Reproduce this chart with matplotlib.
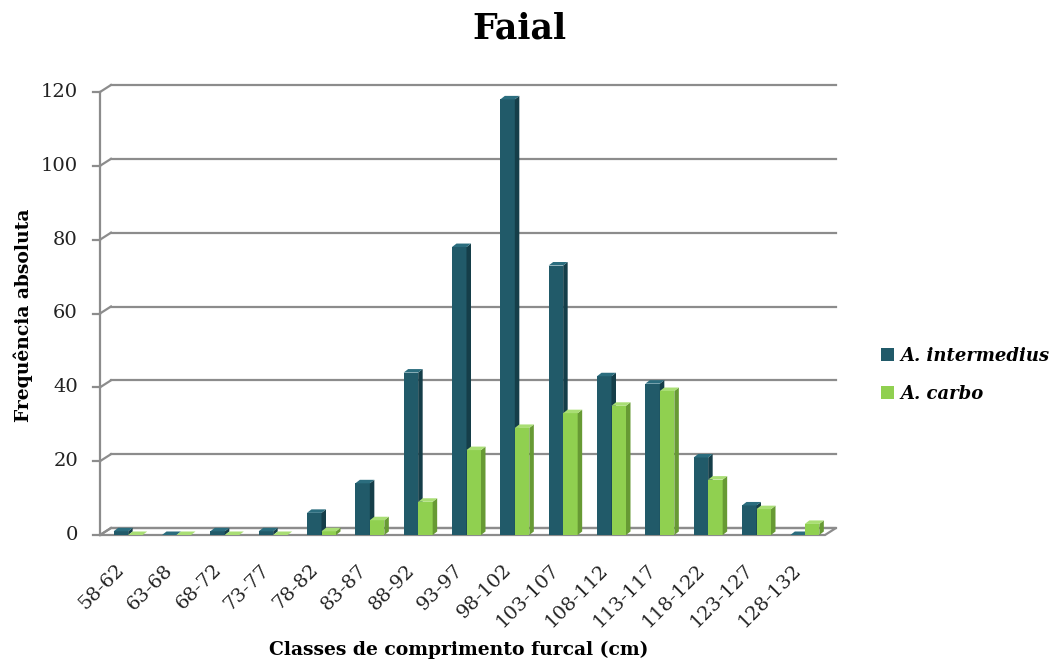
import matplotlib
matplotlib.use("Agg")
import matplotlib.pyplot as plt
from matplotlib.patches import Polygon, Patch
import numpy as np

categories = ["58-62", "63-68", "68-72", "73-77", "78-82", "83-87", "88-92", "93-97",
              "98-102", "103-107", "108-112", "113-117", "118-122", "123-127", "128-132"]
intermedius = [1, 0, 1, 1, 6, 14, 44, 78, 118, 73, 43, 41, 21, 8, 0]
carbo = [0, 0, 0, 0, 1, 4, 9, 23, 29, 33, 35, 39, 15, 7, 3]
yticks = [0, 20, 40, 60, 80, 100, 120]
series_names = ["A. intermedius", "A. carbo"]

font = "DejaVu Serif"
plt.rcParams['font.family'] = [font]

W, H = 1052, 668
fig = plt.figure(figsize=(W / 100, H / 100), dpi=100)
left_px, right_px = 100, 825
bot_px, top_px = 535, 92
ax = fig.add_axes([left_px / W, 1 - bot_px / H, (right_px - left_px) / W, (bot_px - top_px) / H])
n = len(categories)
ax.set_xlim(-0.5, n - 0.5)
ax.set_ylim(0, 120)
ax.axis('off')

cat_px = (right_px - left_px) / n
val_px = (bot_px - top_px) / 120.0
# back wall offset
bdx, bdy = 11 / cat_px, 7 / val_px
# bar depth offset
ddx, ddy = 4.5 / cat_px, 3.5 / val_px
shift = 4 / cat_px
grid_col = "#8c8c8c"

# floor
floor = Polygon([(-0.5, 0), (n - 0.5, 0), (n - 0.5 + bdx, bdy), (-0.5 + bdx, bdy)],
                closed=True, facecolor="white", edgecolor=grid_col, lw=1.6, clip_on=False, zorder=1)
ax.add_patch(floor)
# gridlines on back wall
for t in yticks:
    ax.plot([-0.5 + bdx, n - 0.5 + bdx], [t + bdy, t + bdy], color=grid_col, lw=1.6, clip_on=False, zorder=1)
    ax.plot([-0.5, -0.5 + bdx], [t, t + bdy], color=grid_col, lw=1.6, clip_on=False, zorder=1)
    ax.plot([-0.5 - 7 / cat_px, -0.5], [t, t], color=grid_col, lw=1.6, clip_on=False, zorder=1)
    ax.text(-0.5 - 22 / cat_px, t, str(t), ha='right', va='center', fontsize=14, color="#222222")
ax.plot([-0.5, -0.5], [0, 120], color=grid_col, lw=1.6, clip_on=False, zorder=1)

bw = 0.30
styles = [
    ("#215a69", "#153e49", "#2b6d7e"),
    ("#90d050", "#679a34", "#a9de74"),
]
x = np.arange(n)
for i in range(n):
    for s, (vals, (fc, sc, tc)) in enumerate(zip([intermedius, carbo], styles)):
        v = vals[i]
        x0 = i + shift - bw + s * bw
        x1 = x0 + bw
        ax.bar([x0], [v], width=bw, align='edge', color=fc, edgecolor='none', zorder=3 + s)
        side = Polygon([(x1, 0), (x1 + ddx, ddy), (x1 + ddx, v + ddy), (x1, v)], closed=True,
                       facecolor=sc, edgecolor='none', zorder=3 + s, clip_on=False)
        top = Polygon([(x0, v), (x1, v), (x1 + ddx, v + ddy), (x0 + ddx, v + ddy)], closed=True,
                      facecolor=tc, edgecolor='none', zorder=3 + s, clip_on=False)
        ax.add_patch(side)
        ax.add_patch(top)

for i, c in enumerate(categories):
    ax.text(i - 0.18, -7.0, c, rotation=45, ha='right', va='top', fontsize=14,
            rotation_mode='anchor', color="#222222")

fig.text(0.494, 0.958, "Faial", ha='center', va='center', fontsize=25, fontweight='bold')
fig.text(0.022, 0.528, "Frequência absoluta", rotation=90, ha='center', va='center',
         fontsize=13.5, fontweight='bold')
fig.text(0.436, 0.027, "Classes de comprimento furcal (cm)", ha='center', va='center',
         fontsize=13.5, fontweight='bold')

handles = [Patch(facecolor=styles[0][0]), Patch(facecolor=styles[1][0])]
fig.legend(handles, series_names, loc='center left', bbox_to_anchor=(0.822, 0.439),
           frameon=False, prop={'family': font, 'weight': 'bold', 'style': 'italic', 'size': 13},
           handlelength=0.7, handleheight=0.7, handletextpad=0.4, labelspacing=1.1)

fig.savefig("out.png", dpi=100)
